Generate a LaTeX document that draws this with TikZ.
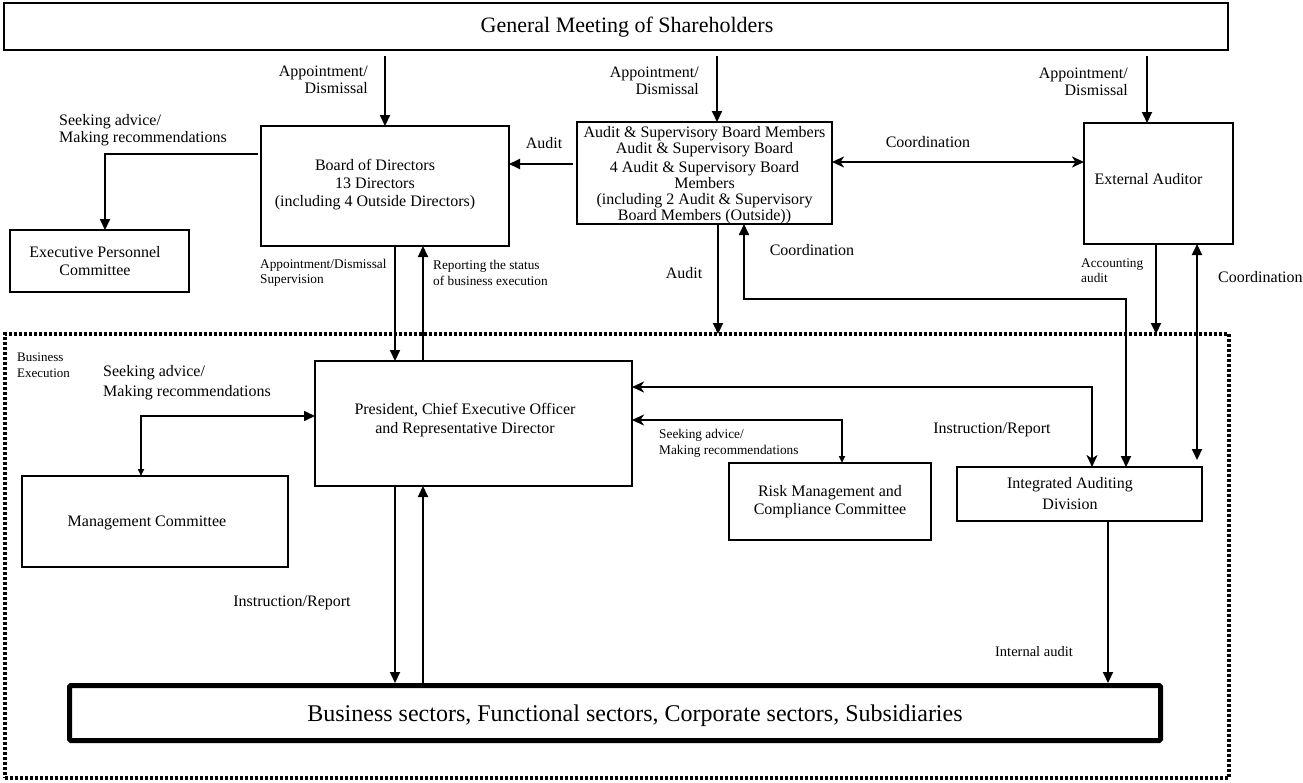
\documentclass[tikz,border=0pt]{standalone}
\usepackage{fontspec}
\setmainfont{Liberation Serif}
\usetikzlibrary{arrows.meta}
\tikzset{
  box/.style={draw, line width=2pt, inner sep=0pt, outer sep=0pt},
  txt/.style={inner sep=0pt, align=center, font=\fontsize{16}{18}\selectfont},
  lbl/.style={inner sep=0pt, font=\fontsize{16}{17}\selectfont},
  sml/.style={inner sep=0pt, font=\fontsize{13.3}{15.5}\selectfont},
  conn/.style={line width=2pt},
  thinconn/.style={line width=1.6pt},
  ATri/.tip={Triangle[length=11pt,width=10pt]},
  AStl/.tip={Stealth[length=12pt,width=11pt,inset=3.5pt]},
  ASm/.tip={Triangle[length=7pt,width=6pt]}
}
\begin{document}
\begin{tikzpicture}[x=1pt,y=-1pt]
\useasboundingbox (0,0) rectangle (1303,782);
% frame
\node[draw, line width=3.5pt, dash pattern=on 3pt off 2pt, inner sep=0pt, outer sep=0pt,
      minimum width=1224pt, minimum height=444pt] (frame) at (617,556) {};
% boxes
\node[box, line width=2.5pt, minimum width=1224pt, minimum height=47pt] (gm) at (616,26.5) {};
\node[box, minimum width=248pt, minimum height=120pt] (board) at (385,186) {};
\node[box, minimum width=179pt, minimum height=62pt] (exec) at (99.5,261) {};
\node[box, minimum width=255pt, minimum height=102pt] (audit) at (704.5,173) {};
\node[box, minimum width=149pt, minimum height=121pt] (ext) at (1158.5,183.5) {};
\node[box, minimum width=317pt, minimum height=125pt] (pres) at (473.5,423.5) {};
\node[box, minimum width=266pt, minimum height=91pt] (mgmt) at (155,521.5) {};
\node[box, minimum width=202pt, minimum height=77pt] (risk) at (830,501.5) {};
\node[box, minimum width=245pt, minimum height=54pt] (iad) at (1079.5,494) {};
\node[box, line width=5pt, rounded corners=1.5pt, minimum width=1091pt, minimum height=55pt] (bus) at (615,713) {};
% box texts
\node[txt, font=\fontsize{22}{24}\selectfont] (gmt) at (627,27) {General Meeting of Shareholders};
\node[txt] (boardt) at (375,185) {Board of Directors\\13 Directors\\(including 4 Outside Directors)};
\node[txt] (exect) at (95,261) {Executive Personnel\\Committee};
\node[txt, font=\fontsize{16}{16}\selectfont] (auditt) at (704.5,175) {Audit \& Supervisory Board Members\\Audit \& Supervisory Board\\[3pt]4 Audit \& Supervisory Board\\Members\\(including 2 Audit \& Supervisory\\Board Members (Outside))};
\node[txt] (extt) at (1148.5,179) {External Auditor};
\node[txt, font=\fontsize{16}{19}\selectfont] (prest) at (465,420) {President, Chief Executive Officer\\and Representative Director};
\node[txt] (mgmtt) at (147,523) {Management Committee};
\node[txt] (riskt) at (830,502) {Risk Management and\\Compliance Committee};
\node[txt, font=\fontsize{16}{21}\selectfont] (iadt) at (1070,493.5) {Integrated Auditing\\Division};
\node[txt, font=\fontsize{24}{26}\selectfont] (bust) at (635,716) {Business sectors, Functional sectors, Corporate sectors, Subsidiaries};
% labels
\node[lbl, align=right, anchor=east] (l1) at (368,80) {Appointment/\\Dismissal};
\node[lbl, align=right, anchor=east] (l2) at (699,81) {Appointment/\\Dismissal};
\node[lbl, align=right, anchor=east] (l3) at (1128,82) {Appointment/\\Dismissal};
\node[lbl, align=left, anchor=west] (l4) at (59,130.5) {Seeking advice/\\Making recommendations};
\node[lbl] (l5) at (544,143) {Audit};
\node[lbl] (l6) at (928,142) {Coordination};
\node[lbl] (l7) at (684,273) {Audit};
\node[lbl] (l8) at (812,250) {Coordination};
\node[sml, align=left, anchor=west] (l9) at (1081,270.5) {Accounting\\audit};
\node[lbl, anchor=west] (l10) at (1218,277) {Coordination};
\node[sml, align=left, anchor=west] (l11) at (260,273) {Appointment/Dismissal\\Supervision};
\node[sml, align=left, anchor=west] (l12) at (433,273) {Reporting the status\\of business execution};
\node[sml, font=\fontsize{13}{16}\selectfont, align=left, anchor=west] (l13) at (17,365) {Business\\Execution};
\node[lbl, font=\fontsize{16}{20}\selectfont, align=left, anchor=west] (l14) at (103,383) {Seeking advice/\\Making recommendations};
\node[sml, align=left, anchor=west] (l15) at (659,443.5) {Seeking advice/\\Making recommendations};
\node[lbl] (l16) at (992,430) {Instruction/Report};
\node[lbl] (l17) at (292,603) {Instruction/Report};
\node[lbl, font=\fontsize{14.5}{16}\selectfont] (l18) at (1034,652) {Internal audit};
% connectors
\draw[conn, -{ATri}] ([shift={(381,6)}]gm.south west) -- (board.north);
\draw[conn, -{ATri}] ([shift={(713,6)}]gm.south west) -- ([shift={(140,0)}]audit.north west);
\draw[conn, -{ATri}] ([shift={(1143,6)}]gm.south west) -- ([shift={(63,0)}]ext.north west);
\draw[conn, -{ATri}] ([shift={(-3,28)}]board.north west) -| ([shift={(95,0)}]exec.north west);
\draw[conn, -{ATri}] ([shift={(-4,42)}]audit.north west) -- ([shift={(0,38)}]board.north east);
\draw[conn, {AStl}-{AStl}] ([shift={(0,40)}]audit.north east) -- ([shift={(0,39)}]ext.north west);
\draw[conn, -{ATri}] ([shift={(141,0)}]audit.south west) -- ([shift={(713,0)}]frame.north west);
\draw[conn, {ATri}-{ATri}] ([shift={(167,0)}]audit.south west) |- ([shift={(169,-168)}]iad.north west) -- ([shift={(169,0)}]iad.north west);
\draw[conn, -{ATri}] ([shift={(72,0)}]ext.south west) -- ([shift={(1151,0)}]frame.north west);
\draw[conn, {ATri}-{ATri}] ([shift={(113,0)}]ext.south west) -- ([shift={(240,-7)}]iad.north west);
\draw[conn, -{ATri}] ([shift={(134,0)}]board.south west) -- ([shift={(80,0)}]pres.north west);
\draw[conn, -{ATri}] ([shift={(108,0)}]pres.north west) -- ([shift={(162,0)}]board.south west);
\draw[thinconn, {ASm}-{ATri}] ([shift={(119,0)}]mgmt.north west) |- ([shift={(0,55)}]pres.north west);
\draw[conn, {AStl}-{AStl}] ([shift={(0,26)}]pres.north east) -| ([shift={(135,0)}]iad.north west);
\draw[thinconn, {AStl}-{ASm}] ([shift={(0,59)}]pres.north east) -| ([shift={(113,0)}]risk.north west);
\draw[conn, -{ATri}] ([shift={(80,0)}]pres.south west) -- ([shift={(325.5,-2.5)}]bus.north west);
\draw[conn, -{ATri}] ([shift={(353.5,-2.5)}]bus.north west) -- ([shift={(108,0)}]pres.south west);
\draw[conn, -{ATri}] ([shift={(151,0)}]iad.south west) -- ([shift={(1038.5,-2.5)}]bus.north west);
\end{tikzpicture}
\end{document}
